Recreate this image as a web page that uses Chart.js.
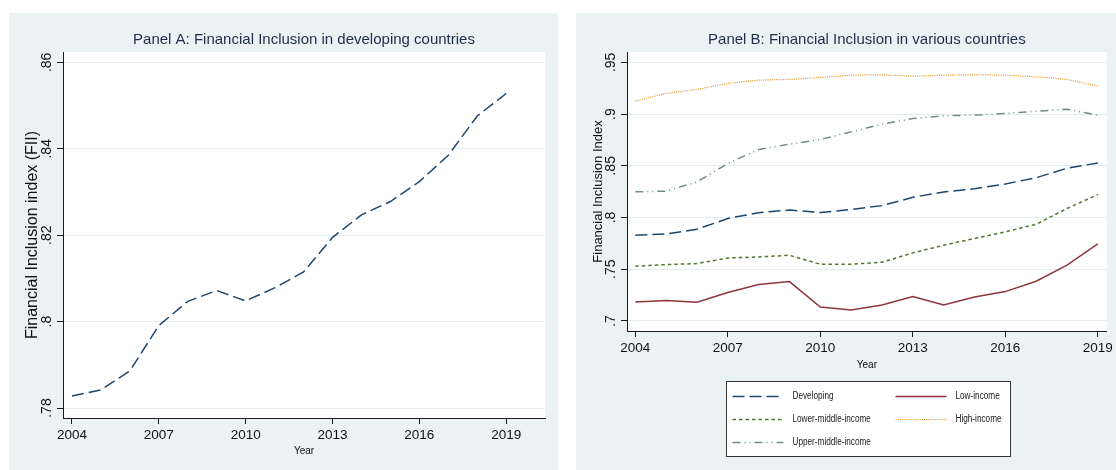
<!DOCTYPE html>
<html>
<head>
<meta charset="utf-8">
<title>Financial Inclusion</title>
<script src="https://cdn.jsdelivr.net/npm/chart.js@4.4.1/dist/chart.umd.min.js"></script>
<style>
  html, body { margin: 0; padding: 0; background: #fff; }
  body { position: relative; width: 1116px; height: 470px; overflow: hidden; }
  .panel { position: absolute; top: 13px; height: 457px; background: #eaf2f3; }
  #panelA { left: 9px; width: 549px; }
  #panelB { left: 576px; width: 540px; }
  canvas { display: block; }
</style>
</head>
<body>
<div class="panel" id="panelA"><canvas id="fiiDeveloping" width="549" height="457"></canvas></div>
<div class="panel" id="panelB"><canvas id="fiiGroups" width="540" height="457"></canvas></div>
<script>
// Financial inclusion index by country group, 2004-2019
const years = [2004, 2005, 2006, 2007, 2008, 2009, 2010, 2011, 2012, 2013, 2014, 2015, 2016, 2017, 2018, 2019];
const developing  = [.7828, .7842, .7886, .7991, .8047, .8072, .8048, .8078, .8115, .8195, .8247, .8278, .8324, .8385, .8476, .8528];
const lowIncome   = [.7184, .7197, .7181, .7275, .7352, .7381, .7135, .7107, .7155, .7236, .7155, .7232, .7284, .7384, .7539, .7745];
const lowerMiddle = [.7529, .7545, .7555, .7609, .7619, .7635, .7548, .7548, .7568, .7658, .7732, .7797, .7862, .7935, .8087, .8222];
const highIncome  = [.9125, .9200, .9238, .9296, .9328, .9335, .9354, .9376, .9380, .9366, .9376, .9380, .9376, .9360, .9335, .9270];
const upperMiddle = [.8248, .8255, .8344, .8522, .8658, .8709, .8754, .8828, .8902, .8957, .8983, .8990, .9006, .9028, .9047, .8990];

const yearTicks = [2004, 2007, 2010, 2013, 2016, 2019];
const fiiTicksA = [.78, .80, .82, .84, .86];
const fiiLabelsA = ['.78', '.8', '.82', '.84', '.86'];
const fiiTicksB = [.70, .75, .80, .85, .90, .95];
const fiiLabelsB = ['.7', '.75', '.8', '.85', '.9', '.95'];

const NAVY = '#1a476f', MAROON = '#90353b', GREEN = '#55752f', ORANGE = '#e8901a', TEAL = '#6e8e84';
const AXIS = '#1a1a1a', GRID = '#e3ecee', TITLE = '#1f2c4c', TEXT = '#111';

Chart.defaults.font.family = "'Liberation Sans', Arial, sans-serif";
Chart.defaults.color = TEXT;

const toPoints = values => years.map((x, i) => ({x, y: values[i]}));

const series = (label, values, color, dash, width = 1.5) => ({
    label,
    data: toPoints(values),
    borderColor: color,
    backgroundColor: color,
    borderWidth: width,
    borderDash: dash,
    pointRadius: 0,
    tension: 0,
    fill: false
});

const xAxis = (min, max, height, titlePad) => ({
    type: 'linear',
    min, max,
    afterBuildTicks: s => { s.ticks = yearTicks.map(value => ({value})) },
    afterFit: s => { s.height = height },
    border: {color: AXIS, width: 1},
    grid: {drawOnChartArea: false, tickLength: 6, tickColor: AXIS, tickWidth: 1},
    ticks: {padding: 3, font: {size: 13.5}, maxRotation: 0, autoSkip: false, callback: v => String(v)},
    title: {display: true, text: 'Year', font: {size: 10}, padding: {top: 0, bottom: titlePad}}
});

const yAxis = (min, max, ticks, labels, width, title, titleSize, titlePad) => ({
    type: 'linear',
    min, max,
    afterBuildTicks: s => { s.ticks = ticks.map(value => ({value})) },
    afterFit: s => { s.width = width },
    border: {color: AXIS, width: 1},
    grid: {color: GRID, lineWidth: 1, tickLength: 6, tickColor: AXIS, tickWidth: 1},
    ticks: {minRotation: 90, maxRotation: 90, crossAlign: 'center', padding: 0, font: {size: 14}, autoSkip: false, callback: (v, i) => labels[i]},
    title: {display: true, text: title, font: {size: titleSize}, padding: {top: titlePad, bottom: 0}}
});

const panelTitle = text => ({
    display: true,
    text,
    fullSize: false,
    color: TITLE,
    font: {size: 15, weight: 'normal', lineHeight: '20px'},
    padding: {top: 17, bottom: 2}
});

// white plot region inside the tinted panel
const plotBackground = {
    id: 'plotBackground',
    beforeDraw(chart) {
        const {ctx, chartArea: a} = chart;
        ctx.save();
        ctx.fillStyle = '#fff';
        ctx.fillRect(a.left, a.top, a.width, a.height);
        ctx.restore();
    }
};

// boxed two-column legend under the x axis title
const boxedLegend = {
    id: 'boxedLegend',
    afterDraw(chart) {
        const {ctx, chartArea: a} = chart;
        const w = 284, h = 75;
        const left = Math.round((a.left + a.right) / 2 - w / 2) + 1.5;
        const top = 368.5;
        ctx.save();
        ctx.fillStyle = '#fff';
        ctx.fillRect(left, top, w, h);
        ctx.strokeStyle = '#333';
        ctx.lineWidth = 1;
        ctx.strokeRect(left, top, w, h);
        const cols = [6, 169], rows = [15, 38, 61];
        ctx.font = "10px 'Liberation Sans', Arial, sans-serif";
        ctx.textBaseline = 'middle';
        ctx.textAlign = 'left';
        chart.data.datasets.forEach((ds, i) => {
            const x = left + cols[i % 2];
            const y = top + rows[Math.floor(i / 2)];
            ctx.beginPath();
            ctx.setLineDash(ds.borderDash || []);
            ctx.strokeStyle = ds.borderColor;
            ctx.lineWidth = ds.borderWidth;
            ctx.moveTo(x, y);
            ctx.lineTo(x + 51, y);
            ctx.stroke();
            ctx.setLineDash([]);
            // condensed label text
            ctx.save();
            ctx.translate(x + 60, y);
            ctx.scale(0.82, 1);
            ctx.fillStyle = '#222';
            ctx.fillText(ds.label, 0, 0);
            ctx.restore();
        });
        ctx.restore();
    }
};

const noChrome = {legend: {display: false}, tooltip: {enabled: false}};

new Chart(document.getElementById('fiiDeveloping'), {
    type: 'line',
    data: {
        datasets: [series('Developing', developing, NAVY, [12, 5])]
    },
    options: {
        responsive: false,
        animation: false,
        layout: {padding: {right: 13}},
        plugins: {...noChrome, title: panelTitle('Panel A: Financial Inclusion in developing countries')},
        scales: {
            x: xAxis(2003.69, 2020.34, 52, 13),
            y: yAxis(.7777, .8624, fiiTicksA, fiiLabelsA, 54, 'Financial Inclusion index (FII)', 16, 13.7)
        }
    },
    plugins: [plotBackground]
});

new Chart(document.getElementById('fiiGroups'), {
    type: 'line',
    data: {
        datasets: [
            series('Developing', developing, NAVY, [12, 5]),
            series('Low-income', lowIncome, MAROON, []),
            series('Lower-middle-income', lowerMiddle, GREEN, [3.5, 3]),
            series('High-income', highIncome, ORANGE, [1, 1.2], 1.2),
            series('Upper-middle-income', upperMiddle, TEAL, [8, 4, 1, 4, 1, 4])
        ]
    },
    options: {
        responsive: false,
        animation: false,
        layout: {padding: {right: 5, bottom: 79}},
        plugins: {...noChrome, title: panelTitle('Panel B: Financial Inclusion in various countries')},
        scales: {
            x: xAxis(2003.73, 2019.29, 60, 20),
            y: yAxis(.6903, .96, fiiTicksB, fiiLabelsB, 51, 'Financial Inclusion Index', 13, 14.2)
        }
    },
    plugins: [plotBackground, boxedLegend]
});
</script>
</body>
</html>
